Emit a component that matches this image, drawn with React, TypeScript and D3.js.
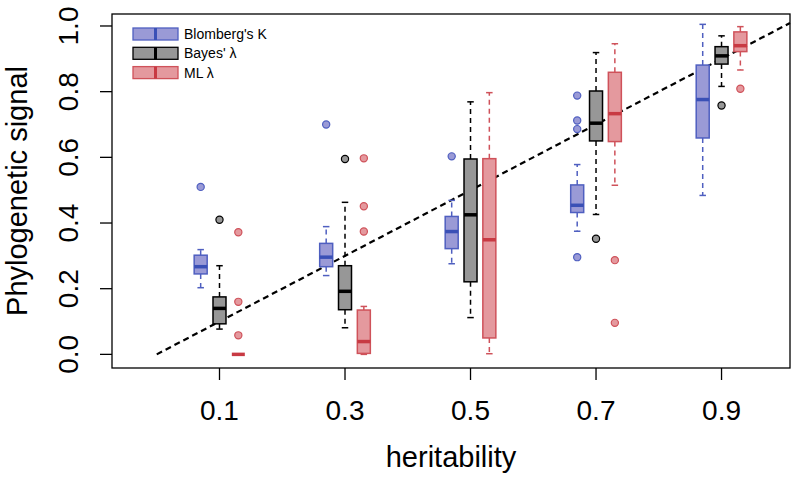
import React from 'react';
import * as d3 from 'd3';

// heritability levels on the x axis
const heritability = [0.1, 0.3, 0.5, 0.7, 0.9];
const yTicks = [0, 0.2, 0.4, 0.6, 0.8, 1.0];

// Blomberg's K: whisker low, Q1, median, Q3, whisker high
const kLow = [0.203, 0.24, 0.276, 0.375, 0.484];
const kQ1 = [0.245, 0.267, 0.322, 0.432, 0.659];
const kMed = [0.267, 0.296, 0.374, 0.454, 0.776];
const kQ3 = [0.302, 0.338, 0.42, 0.516, 0.881];
const kHigh = [0.319, 0.389, 0.469, 0.578, 1.005];
const kOut = [[0.51], [0.70], [0.603], [0.788, 0.712, 0.686, 0.296], []];

// Bayes' lambda
const bLow = [0.077, 0.081, 0.112, 0.426, 0.816];
const bQ1 = [0.093, 0.136, 0.221, 0.65, 0.884];
const bMed = [0.14, 0.192, 0.425, 0.704, 0.909];
const bQ3 = [0.175, 0.27, 0.595, 0.802, 0.937];
const bHigh = [0.27, 0.463, 0.769, 0.919, 0.97];
const bOut = [[0.41], [0.595], [], [0.352], [0.758]];

// ML lambda
const mLow = [0, 0, 0.002, 0.515, 0.866];
const mQ1 = [0, 0.003, 0.05, 0.648, 0.922];
const mMed = [0, 0.039, 0.349, 0.733, 0.94];
const mQ3 = [0, 0.135, 0.596, 0.859, 0.982];
const mHigh = [0, 0.146, 0.797, 0.946, 0.998];
const mOut = [[0.372, 0.16, 0.058], [0.597, 0.451, 0.374], [], [0.287, 0.096], [0.809]];

const series = [
  { name: "Blomberg's K", low: kLow, q1: kQ1, med: kMed, q3: kQ3, high: kHigh, out: kOut,
    fill: '#9a9ad6', stroke: '#4f5fc0', medColor: '#3a50b6', shift: -0.03 },
  { name: "Bayes' λ", low: bLow, q1: bQ1, med: bMed, q3: bQ3, high: bHigh, out: bOut,
    fill: '#979797', stroke: '#000000', medColor: '#000000', shift: 0 },
  { name: 'ML λ', low: mLow, q1: mQ1, med: mMed, q3: mQ3, high: mHigh, out: mOut,
    fill: '#e4999e', stroke: '#cf525a', medColor: '#c83a43', shift: 0.03 },
];

const W = 800;
const H = 481;
const plot = { left: 112, right: 790, top: 14, bottom: 368 };
const font = '"Liberation Sans", Arial, Helvetica, sans-serif';

const App = () => {
  const x = d3.scaleLinear().domain([-0.0713, 1.0091]).range([plot.left, plot.right]);
  const y = d3.scaleLinear().domain([-0.0415, 1.0365]).range([plot.bottom, plot.top]);
  const bw = 13;
  const cap = 6.5;

  return (
    <svg width={W} height={H} style={{ position: 'absolute', left: 0, top: 0, background: '#fff' }}>
      {/* y = x reference line */}
      <line x1={x(0)} y1={y(0)} x2={x(x.domain()[1])} y2={y(x.domain()[1])}
        stroke="#000" strokeWidth={2.2} strokeDasharray="6,4" />

      {series.map((s) => (
        <g key={s.name}>
          {heritability.map((h, i) => {
            const cx = x(h + s.shift);
            return (
              <g key={i}>
                <line x1={cx} x2={cx} y1={y(s.q3[i])} y2={y(s.high[i])} stroke={s.stroke} strokeWidth={1.5} strokeDasharray="5,4" />
                <line x1={cx} x2={cx} y1={y(s.q1[i])} y2={y(s.low[i])} stroke={s.stroke} strokeWidth={1.5} strokeDasharray="5,4" />
                <line x1={cx - cap / 2} x2={cx + cap / 2} y1={y(s.high[i])} y2={y(s.high[i])} stroke={s.stroke} strokeWidth={1.5} />
                <line x1={cx - cap / 2} x2={cx + cap / 2} y1={y(s.low[i])} y2={y(s.low[i])} stroke={s.stroke} strokeWidth={1.5} />
                <rect x={cx - bw / 2} width={bw} y={y(s.q3[i])} height={y(s.q1[i]) - y(s.q3[i])}
                  fill={s.fill} stroke={s.stroke} strokeWidth={1.5} />
                <line x1={cx - bw / 2} x2={cx + bw / 2} y1={y(s.med[i])} y2={y(s.med[i])} stroke={s.medColor} strokeWidth={3.5} />
                {s.out[i].map((o, j) => (
                  <circle key={j} cx={cx} cy={y(o)} r={3.6} fill={s.fill} stroke={s.stroke} strokeWidth={1.2} />
                ))}
              </g>
            );
          })}
        </g>
      ))}

      {/* frame */}
      <rect x={plot.left} y={plot.top} width={plot.right - plot.left} height={plot.bottom - plot.top}
        fill="none" stroke="#000" strokeWidth={1.3} />

      {/* y axis */}
      {yTicks.map((t) => (
        <g key={t}>
          <line x1={plot.left - 12} x2={plot.left} y1={y(t)} y2={y(t)} stroke="#000" strokeWidth={1.3} />
          <text transform={`translate(68,${y(t)}) rotate(-90)`} dy="0.36em" textAnchor="middle"
            fontFamily={font} fontSize={28}>{t.toFixed(1)}</text>
        </g>
      ))}

      {/* x axis */}
      {heritability.map((h) => (
        <g key={h}>
          <line x1={x(h)} x2={x(h)} y1={plot.bottom} y2={plot.bottom + 12} stroke="#000" strokeWidth={1.3} />
          <text x={x(h)} y={420} textAnchor="middle" fontFamily={font} fontSize={28}>{h.toFixed(1)}</text>
        </g>
      ))}

      <text x={(plot.left + plot.right) / 2} y={467} textAnchor="middle" fontFamily={font} fontSize={29}>heritability</text>
      <text transform={`translate(27,${(plot.top + plot.bottom) / 2}) rotate(-90)`} textAnchor="middle"
        fontFamily={font} fontSize={29}>Phylogenetic signal</text>

      {/* legend */}
      {series.map((s, i) => {
        const cy = 34 + i * 19.3;
        return (
          <g key={s.name}>
            <rect x={133} y={cy - 6} width={45} height={12} fill={s.fill} stroke={s.stroke} strokeWidth={1.3} />
            <line x1={155.5} x2={155.5} y1={cy - 6} y2={cy + 6} stroke={s.medColor} strokeWidth={3} />
            <text x={184} y={cy + 5} fontFamily={font} fontSize={14}>{s.name}</text>
          </g>
        );
      })}
    </svg>
  );
};

export default App;
